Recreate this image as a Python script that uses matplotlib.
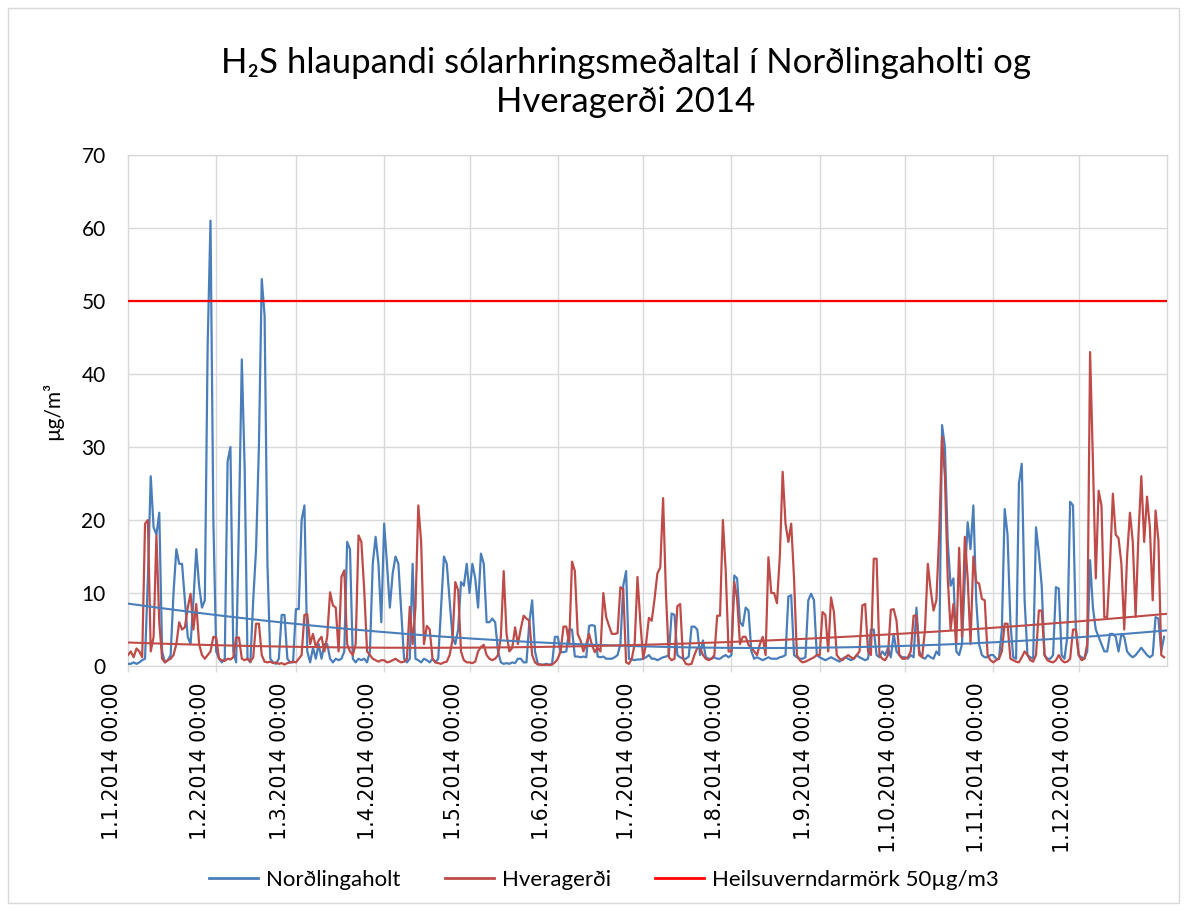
import numpy as np
import matplotlib.pyplot as plt
import matplotlib.transforms as mtrans
from matplotlib.lines import Line2D
from matplotlib.patches import Rectangle

# 24h running mean H2S, ug/m3, one value per day
nordlingaholt = [
    # jan
    0.3, 0.3, 0.5, 0.3, 0.5, 0.8, 1.0, 12, 26, 19, 18, 21, 2, 0.5, 0.8, 1.5,
    10, 16, 14, 14, 9, 4, 3, 9, 16, 11, 8, 9, 44, 61, 20,
    # feb
    2, 1, 0.5, 1, 28, 30, 2, 0.5, 20, 42, 27, 1, 0.5, 9, 16, 30, 53, 48, 14, 1,
    0.5, 0.3, 1, 7, 7, 1, 0.5, 0.5,
    # mar
    7.8, 7.8, 20, 22, 2, 0.5, 2.5, 1, 3, 1, 3, 3, 1, 0.5, 1, 0.8, 1, 2, 17, 16,
    1, 0.5, 1, 0.8, 1, 0.5, 2, 14, 17.7, 14, 6,
    # apr
    19.5, 14, 8, 12.7, 15, 14, 7.6, 1, 0.5, 1, 14, 1, 0.8, 0.5, 1, 0.8, 0.5, 1,
    0.5, 1, 8, 15, 14, 9, 4, 3, 5, 11.5, 11, 14,
    # may
    10, 14, 12, 8, 15.4, 14, 6, 6, 6.5, 6, 2, 0.5, 0.3, 0.4, 0.3, 0.5, 0.4, 1,
    1, 0.5, 0.5, 6, 9, 2, 0.3, 0.2, 0.2, 0.3, 0.2, 0.3, 4,
    # jun
    4, 1.9, 1.9, 2, 5, 5, 1.3, 1.3, 1.2, 1.3, 1.2, 5.5, 5.6, 5.5, 1.3, 1.2, 1.3,
    1, 1, 1, 1.2, 1.5, 3, 11, 13, 1, 0.9, 0.8, 0.9, 0.9,
    # jul
    1, 1.2, 1.5, 1, 1, 0.8, 1, 1.2, 1.3, 1.5, 7.2, 7, 1.5, 1.2, 1, 1, 1.3, 5.4,
    5.4, 5, 1.5, 3.5, 1.2, 1, 1, 1.2, 1, 1, 1.3, 1.5, 1.2,
    # aug
    1.5, 12.4, 12, 6, 5.5, 8, 7.6, 2, 1, 1.2, 1, 0.8, 1, 1.2, 1, 1, 1, 1.2, 1.3,
    1.5, 9.5, 9.7, 1.5, 1.2, 1, 1, 1.2, 9, 9.9, 9, 1.5,
    # sep
    1.2, 1, 0.8, 1, 1.2, 1, 0.8, 0.6, 1, 1.2, 1, 0.8, 1, 1.5, 1.2, 1, 0.8, 1, 5,
    5, 1.5, 1.2, 2, 1.5, 2.5, 1.2, 4.4, 2, 1.5, 1.2,
    # oct
    1.2, 1, 1.5, 1.2, 8, 2, 1.2, 1, 1.5, 1.2, 1, 2, 1.5, 33, 30, 17, 11, 12, 2,
    1.5, 3, 12, 19.7, 16, 22, 9, 3, 1.5, 1.2, 1.2, 1.5,
    # nov
    1.5, 1, 1, 5, 21.5, 18, 6, 1.2, 1, 25, 27.7, 9, 1.5, 1.2, 1, 19, 15.5, 11,
    1.5, 1, 1, 1.5, 10.8, 10.6, 1.5, 1, 4, 22.5, 22, 5,
    # dec
    1.5, 1.2, 1, 2, 14.5, 8, 5, 4, 3, 2, 2, 4.4, 4.4, 4, 2, 4.4, 4, 2, 1.5, 1.2,
    1.5, 2, 2.5, 2, 1.5, 1.2, 1.5, 6.7, 6.5, 2, 4,
]

hveragerdi = [
    # jan
    1.5, 2, 1.2, 2.4, 2, 1.2, 19.5, 20, 2, 4, 17.9, 6, 1, 0.5, 0.8, 1, 1.5, 3,
    6, 5, 5.3, 8, 9.9, 5, 8.5, 3, 1.5, 1, 1.5, 2, 4,
    # feb
    3.9, 1, 0.8, 0.7, 1, 0.9, 1.2, 3.9, 3.9, 1, 0.8, 1, 0.6, 1.2, 5.8, 5.8, 1.5,
    0.6, 0.5, 0.6, 0.4, 0.5, 0.3, 0.4, 0.2, 0.4, 0.5, 0.6,
    # mar
    0.5, 1, 1.5, 7, 7.1, 3, 4.4, 2.6, 3.5, 4, 2, 4, 10.1, 8.3, 8, 2, 12.2, 13.1,
    3, 2, 1.5, 3, 17.9, 17, 10.4, 2, 1.5, 1, 0.8, 0.6, 0.8,
    # apr
    0.8, 0.5, 0.6, 0.8, 1, 0.7, 0.5, 0.6, 1, 8.1, 3, 8, 22, 17, 3, 5.5, 5, 1,
    0.5, 0.4, 0.3, 0.5, 0.6, 1.5, 3.5, 11.5, 10.4, 2, 0.8, 0.5,
    # may
    0.5, 0.4, 0.6, 2, 2.6, 2.9, 1.5, 1, 0.8, 1, 1.5, 4, 13, 4.4, 2, 2.5, 5.3, 3,
    5.1, 6.9, 6.5, 6.2, 1.5, 0.5, 0.2, 0.2, 0.1, 0.2, 0.1, 0.2, 0.5,
    # jun
    1, 2, 5.4, 5.4, 3, 14.3, 13, 4.4, 3.5, 2, 3, 4.4, 2.9, 1.9, 2.5, 2, 10, 6.7,
    5.5, 4.4, 4.4, 4.5, 10.8, 10.5, 0.5, 0.3, 1, 3, 12.2, 6,
    # jul
    1, 3, 6.6, 6.2, 9.2, 12.7, 13.5, 23, 9.9, 1.2, 0.8, 1, 8.2, 8.5, 1, 0.3, 0.2,
    0.3, 1.5, 2.5, 2.5, 1.5, 1, 0.8, 1, 1.5, 6.9, 6.9, 20, 13, 2,
    # aug
    2, 11.5, 9.2, 3, 4, 4, 2.9, 2.5, 2, 1.5, 3, 4, 1.5, 14.9, 10, 10, 8.6, 15,
    26.6, 19.5, 17, 19.5, 12, 1.5, 0.8, 0.5, 0.6, 0.8, 1, 1.2, 1.5,
    # sep
    1.5, 7.4, 7, 2, 9.4, 7.4, 1.5, 1, 0.8, 1.2, 1.5, 1.2, 1, 1.5, 2, 8.3, 8.5, 2,
    1.5, 14.7, 14.7, 1.5, 1, 0.8, 1.5, 7.7, 7.8, 6.2, 1.5, 1,
    # oct
    1, 1.2, 2, 6.9, 6.9, 1.5, 1.2, 5, 14, 10.4, 7.6, 9, 18.1, 31.4, 26, 12, 5,
    8.5, 3, 16.2, 4, 17.7, 12, 3, 15, 11.5, 11.3, 9.2, 9, 1.5, 0.8,
    # nov
    0.5, 0.8, 1, 2, 5.8, 5.8, 1, 0.8, 0.6, 0.5, 1.2, 2, 1.5, 0.8, 0.6, 1.5, 7.6,
    7.6, 1.5, 0.8, 0.6, 0.5, 0.8, 1.5, 0.8, 0.5, 0.6, 1, 5, 5,
    # dec
    1.5, 0.8, 1, 3, 43, 28, 12, 24, 22, 6.7, 6.7, 14, 23.6, 18, 17.5, 14, 5, 15,
    21, 17, 6.7, 18, 26, 17, 23.2, 19, 9, 21.3, 17.2, 1.5, 1.2,
]

# polynomial trend lines at these day numbers
trend_days = [0, 52, 105, 157, 210, 263, 315, 365]
trend_nordlingaholt = [8.6, 6.0, 4.2, 2.9, 2.6, 2.6, 3.6, 4.8]
trend_hveragerdi = [3.2, 2.7, 2.5, 2.7, 3.3, 4.2, 5.5, 7.2]

limit = 50  # heilsuverndarmörk

month_starts = ['2014-01-01', '2014-02-01', '2014-03-01', '2014-04-01',
                '2014-05-01', '2014-06-01', '2014-07-01', '2014-08-01',
                '2014-09-01', '2014-10-01', '2014-11-01', '2014-12-01']
month_labels = ['1.1.2014 00:00', '1.2.2014 00:00', '1.3.2014 00:00',
                '1.4.2014 00:00', '1.5.2014 00:00', '1.6.2014 00:00',
                '1.7.2014 00:00', '1.8.2014 00:00', '1.9.2014 00:00',
                '1.10.2014 00:00', '1.11.2014 00:00', '1.12.2014 00:00']

BLUE = '#4a7ebb'
BROWN = '#be4b48'
LIMIT_RED = '#ff0000'
GRID = '#d9d9d9'
FONT = ['Lato', 'DejaVu Sans']

start = np.datetime64('2014-01-01')
days = start + np.arange(len(nordlingaholt)).astype('timedelta64[D]')

# excel style 2nd order trend through the read points
t = np.arange(366)
t_dates = start + t.astype('timedelta64[D]')
trend_n = np.polyval(np.polyfit(trend_days, trend_nordlingaholt, 2), t)
trend_h = np.polyval(np.polyfit(trend_days, trend_hveragerdi, 2), t)

fig = plt.figure(figsize=(11.87, 9.11), dpi=100)
ax = fig.add_axes([0.1078, 0.2689, 0.8753, 0.5610])

ax.plot(days, nordlingaholt, color=BLUE, lw=1.6, zorder=3)
ax.plot(days, hveragerdi, color=BROWN, lw=1.6, zorder=3)
ax.plot(t_dates, trend_n, color=BLUE, lw=1.5, zorder=4)
ax.plot(t_dates, trend_h, color=BROWN, lw=1.5, zorder=4)
ax.axhline(limit, color=LIMIT_RED, lw=1.6, zorder=4)

ax.set_xlim(start, np.datetime64('2015-01-01'))
ax.set_ylim(0, 70)
ax.set_yticks(range(0, 71, 10))
ax.set_xticks([np.datetime64(d) for d in month_starts])
ax.grid(True, color=GRID, lw=1.0, zorder=0)
for s in ax.spines.values():
    s.set_color(GRID)
    s.set_linewidth(1.0)
ax.tick_params(axis='x', color=GRID, length=4, width=1.0, pad=8)
ax.tick_params(axis='y', length=0, pad=16)
ax.set_xticklabels(month_labels, rotation=90, fontsize=14.8,
                   family='DejaVu Sans')
# excel puts the rotated labels a bit left of the tick
shift = mtrans.ScaledTranslation(-16 / 100, 0, fig.dpi_scale_trans)
for lab in ax.get_xticklabels():
    lab.set_transform(lab.get_transform() + shift)
for lab in ax.get_yticklabels():
    lab.set_family(FONT)
    lab.set_fontsize(15)

ax.set_ylabel('µg/m³', fontsize=15, family=FONT)
ax.yaxis.set_label_coords(-0.062, 0.5)

fig.text(0.527, 0.9094, 'H₂S hlaupandi sólarhringsmeðaltal í Norðlingaholti og\nHveragerði 2014',
         ha='center', va='center', fontsize=25, family=FONT, linespacing=1.3)

handles = [Line2D([], [], color=BLUE, lw=2),
           Line2D([], [], color=BROWN, lw=2),
           Line2D([], [], color=LIMIT_RED, lw=2)]
fig.legend(handles, ['Norðlingaholt', 'Hveragerði', 'Heilsuverndarmörk 50µg/m3'],
           loc='center', bbox_to_anchor=(0.509, 0.034), ncol=3, frameon=False,
           prop={'family': FONT, 'size': 16}, handlelength=2.2,
           handletextpad=0.36, columnspacing=2.0)

fig.patches.append(Rectangle((8 / 1187, 8 / 911), 1171 / 1187, 895 / 911,
                             transform=fig.transFigure, fill=False,
                             edgecolor=GRID, lw=1.0))

fig.savefig('out.png', dpi=100)
